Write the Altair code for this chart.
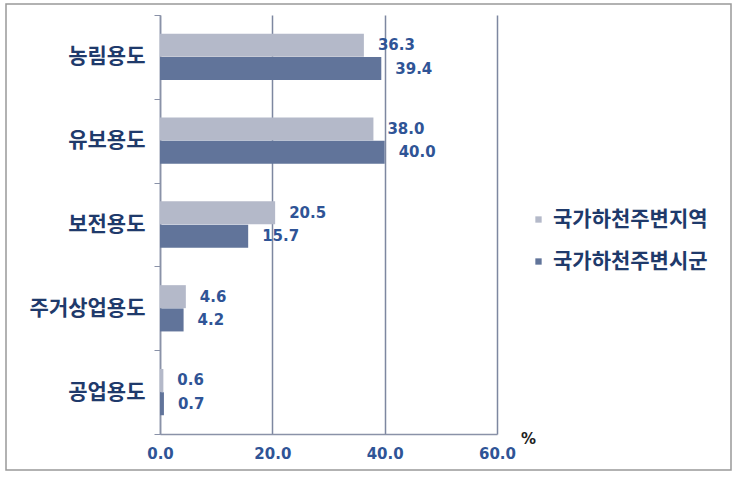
import altair as alt
import pandas as pd

categories = ["농림용도", "유보용도", "보전용도", "주거상업용도", "공업용도"]
series_names = ["국가하천주변지역", "국가하천주변시군"]
region_values = [36.3, 38.0, 20.5, 4.6, 0.6]
sigun_values = [39.4, 40.0, 15.7, 4.2, 0.7]
x_ticks = [0, 20, 40, 60]
colors = ["#b4b9c9", "#61749a"]

rows = []
for c, a, b in zip(categories, region_values, sigun_values):
    rows.append({"cat": c, "series": series_names[0], "value": a})
    rows.append({"cat": c, "series": series_names[1], "value": b})
df = pd.DataFrame(rows)

KFONT = "Noto Sans CJK KR"
NFONT = "DejaVu Sans"

y_enc = alt.Y("cat:N", sort=categories,
              scale=alt.Scale(paddingInner=0, paddingOuter=0),
              axis=alt.Axis(title=None, tickBand="extent", ticks=True, tickSize=6,
                            tickColor="#8a92a8", domainColor="#8a92a8", domainWidth=1.5,
                            labelFont=KFONT, labelFontSize=21, labelFontWeight="bold",
                            labelColor="#1f3a6b", labelPadding=9, grid=False,
                            labelLimit=200))
yoff_enc = alt.YOffset("series:N", sort=series_names,
                       scale=alt.Scale(paddingInner=0, paddingOuter=0.8))
x_enc = alt.X("value:Q", scale=alt.Scale(domain=[0, 60], nice=False),
              axis=alt.Axis(values=x_ticks, format=".1f", ticks=False, grid=True,
                            gridColor="#7d87a0", gridWidth=1.5,
                            domainColor="#8a92a8", domainWidth=1.5,
                            labelFont=NFONT, labelFontSize=15, labelFontWeight="bold",
                            labelColor="#2f5496", labelPadding=12, labelFlush=False,
                            title="%", titleFont=NFONT, titleFontSize=15,
                            titleFontWeight="bold", titleColor="#222222",
                            titleX=368, titleY=4, titleAlign="center",
                            titleBaseline="middle", titleAnchor="start"))

bars = alt.Chart(df).mark_bar(size=23).encode(
    x=x_enc,
    y=y_enc,
    yOffset=yoff_enc,
    color=alt.Color("series:N", sort=series_names,
                    scale=alt.Scale(domain=series_names, range=colors),
                    legend=alt.Legend(title=None, orient="none", legendX=368, legendY=194,
                                      padding=0, symbolType="square", symbolSize=40,
                                      symbolStrokeWidth=0,
                                      labelFont=KFONT, labelFontSize=21,
                                      labelFontWeight="bold", labelColor="#1f3a6b",
                                      labelOffset=4, rowPadding=20, labelLimit=300)),
)

labels = alt.Chart(df).mark_text(align="left", baseline="middle", dx=14,
                                 font=NFONT, fontSize=15, fontWeight="bold",
                                 color="#2f5496").encode(
    x="value:Q",
    y=alt.Y("cat:N", sort=categories),
    yOffset=alt.YOffset("series:N", sort=series_names),
    text=alt.Text("value:Q", format=".1f"),
)

border = alt.Chart(pd.DataFrame({"b": [0]})).mark_rect(
    fill=None, stroke="#999999", strokeWidth=1.5
).encode(x=alt.value(-154), x2=alt.value(571), y=alt.value(-11), y2=alt.value(455))

chart = alt.layer(bars, labels, border).properties(
    width=337, height=419,
    autosize=alt.AutoSizeParams(type="none"),
    padding={"left": 160, "top": 15, "right": 241, "bottom": 44},
    background="white",
).configure_view(stroke=None)

chart.save("out.html", embed_options={"renderer": "svg", "actions": False})
